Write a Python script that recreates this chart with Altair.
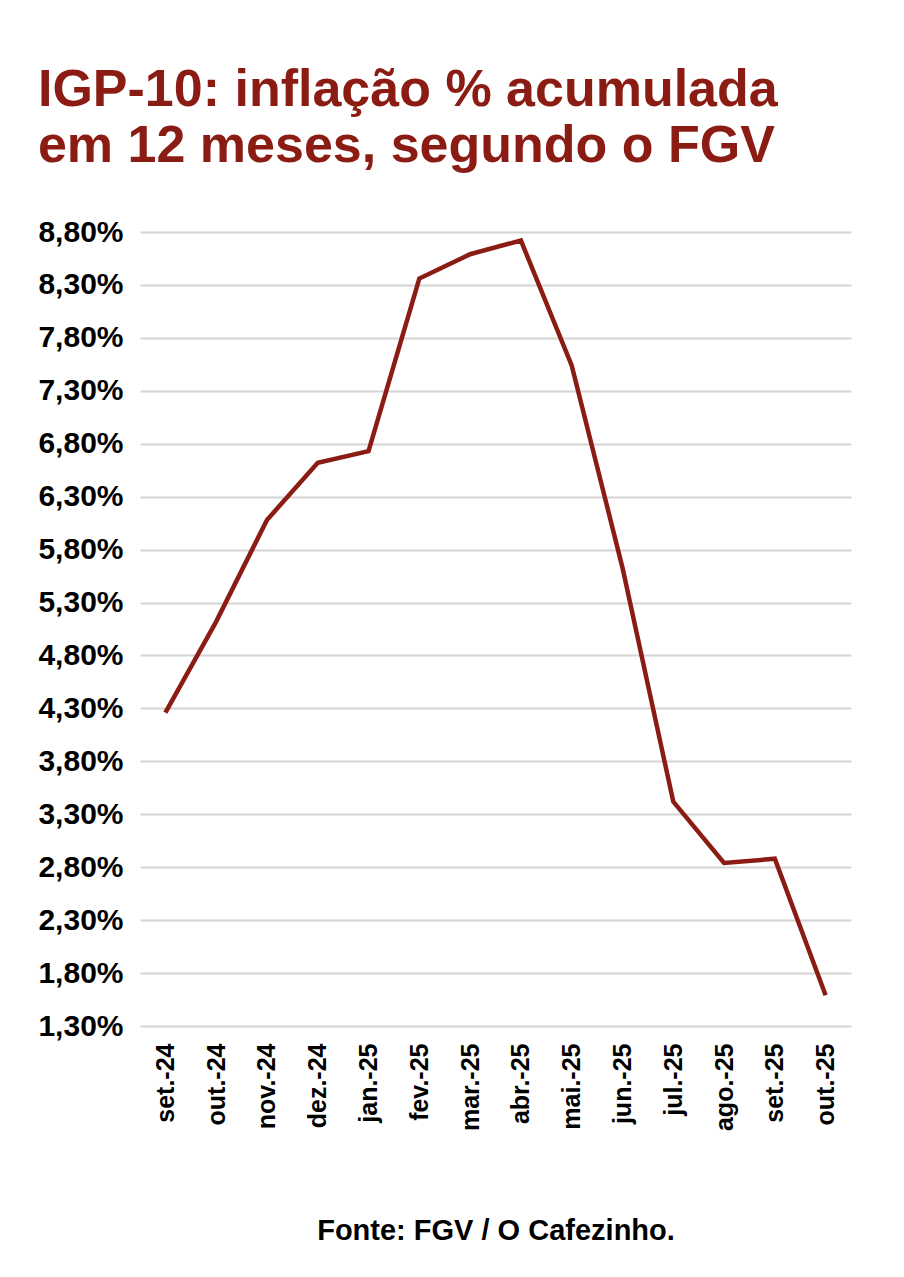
import altair as alt
import pandas as pd

# ---- data ----
months = ["set.-24", "out.-24", "nov.-24", "dez.-24", "jan.-25", "fev.-25", "mar.-25",
          "abr.-25", "mai.-25", "jun.-25", "jul.-25", "ago.-25", "set.-25", "out.-25"]
values = [4.26, 5.12, 6.08, 6.62, 6.73, 8.36, 8.59, 8.72, 7.54, 5.63, 3.42, 2.84, 2.88, 1.59]
y_ticks = [1.3, 1.8, 2.3, 2.8, 3.3, 3.8, 4.3, 4.8, 5.3, 5.8, 6.3, 6.8, 7.3, 7.8, 8.3, 8.8]
title_lines = ["IGP-10: inflação % acumulada", "em 12 meses, segundo o FGV"]
source_note = "Fonte: FGV / O Cafezinho."

df = pd.DataFrame({"mes": months, "valor": values})

RED = "#8b1c14"
FONT = "Liberation Sans"

chart = (
    alt.Chart(df)
    .mark_line(color=RED, strokeWidth=4.5, strokeJoin="miter")
    .encode(
        x=alt.X(
            "mes:O",
            sort=months,
            axis=alt.Axis(
                title=source_note,
                titleFont=FONT,
                titleFontSize=29,
                titleFontWeight="bold",
                titleColor="#000000",
                titlePadding=86,
                labelAngle=-90,
                labelFont=FONT,
                labelFontSize=25,
                labelFontWeight="bold",
                labelColor="#000000",
                labelPadding=17,
                ticks=False,
                domain=False,
                grid=False,
            ),
        ),
        y=alt.Y(
            "valor:Q",
            scale=alt.Scale(domain=[1.3, 8.8], nice=False, zero=False),
            axis=alt.Axis(
                title=None,
                values=y_ticks,
                labelExpr="replace(format(datum.value, '.2f'), '.', ',') + '%'",
                labelFont=FONT,
                labelFontSize=30,
                labelFontWeight="bold",
                labelColor="#000000",
                labelPadding=17,
                ticks=False,
                domain=False,
                gridColor="#d3d3d3",
                gridWidth=2,
            ),
        ),
    )
    .properties(
        width=711,
        height=794,
        padding={"left": 29, "top": 56, "right": 10, "bottom": 10},
        title=alt.TitleParams(
            text=title_lines,
            font=FONT,
            fontSize=52,
            fontWeight="bold",
            color=RED,
            anchor="start",
            frame="bounds",
            lineHeight=56,
            offset=44,
        ),
    )
    .configure_view(stroke=None)
)

chart.save("out.html", embed_options={"renderer": "svg", "actions": False})
